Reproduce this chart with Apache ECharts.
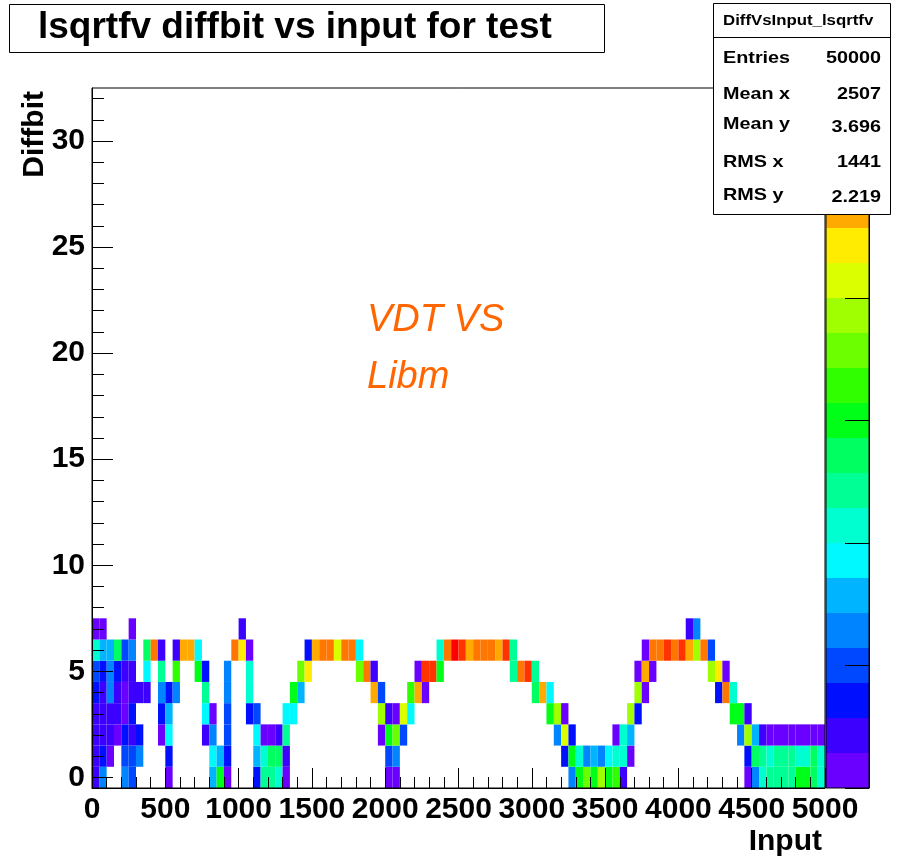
<!DOCTYPE html>
<html>
<head>
<meta charset="utf-8">
<script src="https://cdn.jsdelivr.net/npm/echarts@6/dist/echarts.min.js"></script>
<style>
  html, body { margin: 0; padding: 0; background: #fff; }
  #chart { width: 901px; height: 861px; }
</style>
</head>
<body>
<div id="chart"></div>
<script>
// Histogram binning
const BIN_WIDTH = 50;            // Input bin width (100 bins over 0..5000)
const X_MIN = 0, X_MAX = 5000;
const Y_MIN = -0.5, Y_MAX = 32.5; // Diffbit bins centred on integers

const xTickStep = 500;
const yMajorTicks = [0, 5, 10, 15, 20, 25, 30];
const yMinorTicks = Array.from({ length: 33 }, (_, i) => i);

// Colour palette (violet -> red), one colour per contour level
const paletteColors = [
  '#6a00ff', '#3c00ff', '#0010ff', '#0048ff', '#0084ff',
  '#00b4ff', '#00f8ff', '#00ffd0', '#00ff94', '#00ff60',
  '#00ff18', '#30ff00', '#6cff00', '#a0ff00', '#dcff00',
  '#ffec00', '#ffaa00', '#ff7700', '#ff3300', '#ff0000'
];
const paletteTicks = [0, 3.5, 7, 10.5, 14, 17.5];

// Cells per Diffbit value: [Input bin low edge, contour level]
const diffbit0 = [[0,1],[50,4],[200,4],[250,3],[500,0],[800,5],[850,10],[900,0],[1100,2],[1150,8],[1200,8],[1250,7],[1300,0],
  [2000,0],[2050,0],[3250,4],[3300,10],[3350,12],[3400,10],[3450,13],[3500,10],[3550,11],[3600,1],
  [4450,0],[4500,4],[4550,7],[4600,8],[4650,8],[4700,8],[4750,8],[4800,10],[4850,10],[4900,9],[4950,7]];
const diffbit1 = [[0,1],[50,2],[100,0],[200,3],[250,3],[300,4],[500,2],[800,6],[850,5],[900,2],[1100,5],[1150,7],[1200,9],[1250,9],[1300,1],
  [2000,3],[2050,4],[3200,2],[3250,10],[3300,7],[3350,4],[3400,5],[3450,4],[3500,6],[3550,7],[3600,7],[3650,0],
  [4450,2],[4500,9],[4550,8],[4600,7],[4650,8],[4700,8],[4750,8],[4800,7],[4850,7],[4900,9],[4950,7]];
const diffbit2 = [[0,1],[50,1],[100,1],[150,0],[200,2],[250,1],[300,2],[450,0],[500,6],[750,1],[800,4],[900,3],
  [1100,6],[1150,0],[1200,0],[1250,1],[1300,8],[1950,0],[2000,10],[2050,12],[2100,3],
  [3150,4],[3200,14],[3250,2],[3550,0],[3600,7],[3650,5],[4400,4],[4450,13],[4500,5],[4550,1],
  [4600,0],[4650,0],[4700,0],[4750,0],[4800,0],[4850,0],[4900,0],[4950,0]];
const diffbit3 = [[0,1],[50,1],[100,1],[150,1],[200,0],[250,2],[450,2],[500,5],[750,6],[800,0],[900,3],[1050,2],[1100,3],
  [1300,6],[1350,6],[1950,13],[2000,1],[2050,0],[2100,14],[2150,6],[3100,10],[3150,13],[3200,0],
  [3650,13],[3700,2],[4350,10],[4400,10],[4450,1]];
const diffbit4 = [[0,2],[50,1],[100,4],[150,1],[200,0],[250,1],[300,1],[350,1],[450,4],[500,2],[550,4],[750,8],[900,4],[1050,7],
  [1350,10],[1400,5],[1900,16],[1950,3],[2150,11],[2200,16],[2250,0],[3000,9],[3050,16],[3100,6],
  [3700,13],[3750,0],[4250,2],[4300,17],[4350,7]];
const diffbit5 = [[0,3],[50,2],[100,4],[150,2],[200,1],[250,1],[350,6],[450,8],[550,11],[700,10],[750,2],[900,4],[1050,7],
  [1400,12],[1450,15],[1800,12],[1850,17],[1900,1],[2200,0],[2250,18],[2300,18],[2350,10],
  [2850,8],[2900,17],[2950,18],[3000,8],[3700,0],[3750,16],[3800,0],[4200,13],[4250,15],[4300,0]];
const diffbit6 = [[0,7],[50,5],[100,5],[150,9],[200,3],[250,4],[350,9],[400,17],[450,1],[550,1],[600,16],[650,16],[700,6],
  [950,17],[1000,15],[1050,0],[1450,2],[1500,16],[1550,17],[1600,17],[1650,14],[1700,17],[1750,17],[1800,6],
  [2350,7],[2400,17],[2450,19],[2500,18],[2550,16],[2600,17],[2650,17],[2700,17],[2750,16],[2800,18],[2850,8],
  [3750,0],[3800,17],[3850,17],[3900,18],[3950,17],[4000,18],[4050,16],[4100,13],[4150,17],[4200,3]];
const diffbit7 = [[0,0],[50,0],[250,0],[1000,1],[4050,1],[4100,4]];

const statsTitle = 'DiffVsInput_lsqrtfv';
const statsLabels = ['Entries', 'Mean x', 'Mean y', 'RMS x', 'RMS y'];
const statsValues = ['50000', '2507', '3.696', '1441', '2.219'];

// ---- build the cell list from the rows
const diffbitRows = [diffbit0, diffbit1, diffbit2, diffbit3, diffbit4, diffbit5, diffbit6, diffbit7];
const cells = [];
diffbitRows.forEach((row, k) => row.forEach(([x, lvl]) => cells.push([x, k, lvl])));

const FONT = '"Liberation Sans", Arial, Helvetica, sans-serif';

function cellItem(params, api) {
  const x0 = api.value(0), y = api.value(1), lvl = api.value(2);
  const a = api.coord([x0, y - 0.5]);
  const b = api.coord([x0 + BIN_WIDTH, y + 0.5]);
  return {
    type: 'rect',
    shape: { x: a[0], y: b[1], width: b[0] - a[0], height: a[1] - b[1] },
    style: { fill: paletteColors[lvl] }
  };
}

function bandItem(params, api) {
  const i = api.value(0);
  const a = api.coord([0, i]);
  const b = api.coord([1, i + 1]);
  return {
    type: 'rect',
    shape: { x: a[0], y: b[1], width: b[0] - a[0], height: a[1] - b[1] },
    style: { fill: paletteColors[i] }
  };
}

// stats box rows
const statsY = [[58, 58], [94, 94], [124, 127], [162, 162], [195, 197]];
const statsElements = [];
statsLabels.forEach((lab, i) => {
  statsElements.push({
    type: 'text', x: 723, y: statsY[i][0], scaleX: 1.2, z: 101,
    style: { text: lab, fill: '#000', font: 'bold 16.5px ' + FONT, align: 'left', verticalAlign: 'middle' }
  });
  statsElements.push({
    type: 'text', x: 881, y: statsY[i][1], scaleX: 1.2, z: 101,
    style: { text: statsValues[i], fill: '#000', font: 'bold 16.5px ' + FONT, align: 'right', verticalAlign: 'middle' }
  });
});

const chart = echarts.init(document.getElementById('chart'), null, { renderer: 'canvas' });

chart.setOption({
  backgroundColor: '#fff',
  animation: false,
  grid: [
    { left: 92, top: 88, width: 733, height: 700, show: true, borderColor: '#000', borderWidth: 1, z: 3 },
    { left: 826, top: 88, width: 43, height: 700, show: true, borderColor: '#000', borderWidth: 1, z: 3 }
  ],
  xAxis: [
    {
      gridIndex: 0, type: 'value', min: X_MIN, max: X_MAX, interval: xTickStep, z: 5,
      axisLine: { show: true, onZero: false, lineStyle: { color: '#000', width: 1 } },
      axisTick: { show: true, inside: true, length: 20, lineStyle: { color: '#000', width: 1 } },
      minorTick: { show: true, splitNumber: 5, length: 11, lineStyle: { color: '#000', width: 1 } },
      splitLine: { show: false },
      axisLabel: {
        color: '#000', fontWeight: 'bold', fontSize: 30, fontFamily: FONT, margin: 7,
        showMinLabel: true, showMaxLabel: true, hideOverlap: false,
        formatter: (v) => String(v)
      }
    },
    { gridIndex: 1, type: 'value', min: 0, max: 1, show: false }
  ],
  yAxis: [
    {
      gridIndex: 0, type: 'value', min: Y_MIN, max: Y_MAX, position: 'left', z: 5,
      axisLine: { show: true, onZero: false, lineStyle: { color: '#000', width: 1 } },
      axisTick: { show: true, inside: true, length: 21, customValues: yMajorTicks, lineStyle: { color: '#000', width: 1 } },
      axisLabel: { customValues: yMajorTicks, color: '#000', fontWeight: 'bold', fontSize: 30, fontFamily: FONT, margin: 7 },
      splitLine: { show: false }
    },
    {
      gridIndex: 0, type: 'value', min: Y_MIN, max: Y_MAX, position: 'left', offset: 0, z: 5,
      axisLine: { show: false, onZero: false },
      axisTick: { show: true, inside: true, length: 12, customValues: yMinorTicks, lineStyle: { color: '#000', width: 1 } },
      axisLabel: { show: false },
      splitLine: { show: false }
    },
    {
      gridIndex: 1, type: 'value', min: 0, max: paletteColors.length, position: 'right', z: 5,
      axisLine: { show: true, onZero: false, lineStyle: { color: '#000', width: 1 } },
      axisTick: { show: true, inside: true, length: 24, customValues: paletteTicks, lineStyle: { color: '#000', width: 1 } },
      axisLabel: { show: false },
      splitLine: { show: false }
    }
  ],
  series: [
    {
      name: 'DiffVsInput_lsqrtfv', type: 'custom', xAxisIndex: 0, yAxisIndex: 0,
      data: cells, renderItem: cellItem, clip: true, z: 1
    },
    {
      name: 'palette', type: 'custom', xAxisIndex: 1, yAxisIndex: 2,
      data: paletteColors.map((c, i) => [i]), renderItem: bandItem, z: 1
    }
  ],
  graphic: [
    // title box
    { type: 'rect', z: 100, shape: { x: 9.5, y: 4.5, width: 595, height: 48 },
      style: { fill: '#fff', stroke: '#000', lineWidth: 1 } },
    { type: 'text', x: 38, y: 28, z: 101,
      style: { text: 'lsqrtfv diffbit vs input for test', fill: '#000', font: 'bold 37px ' + FONT, align: 'left', verticalAlign: 'middle' } },
    // stats box
    { type: 'rect', z: 100, shape: { x: 713.5, y: 3.5, width: 177, height: 211 },
      style: { fill: '#fff', stroke: '#000', lineWidth: 1 } },
    { type: 'line', z: 101, shape: { x1: 713.5, y1: 37.5, x2: 890.5, y2: 37.5 },
      style: { stroke: '#000', lineWidth: 1 } },
    { type: 'text', x: 723, y: 21, scaleX: 1.2, z: 101,
      style: { text: statsTitle, fill: '#000', font: 'bold 14px ' + FONT, align: 'left', verticalAlign: 'middle' } },
    ...statsElements,
    // axis titles
    { type: 'text', x: 822, y: 842, z: 101,
      style: { text: 'Input', fill: '#000', font: 'bold 30px ' + FONT, align: 'right', verticalAlign: 'middle' } },
    { type: 'text', x: 35, y: 91, rotation: Math.PI / 2, z: 101,
      style: { text: 'Diffbit', fill: '#000', font: 'bold 30px ' + FONT, align: 'right', verticalAlign: 'middle' } },
    // annotation
    { type: 'text', x: 367, y: 320, z: 101,
      style: { text: 'VDT VS', fill: '#ff6600', font: 'italic 38px ' + FONT, align: 'left', verticalAlign: 'middle' } },
    { type: 'text', x: 367, y: 377, z: 101,
      style: { text: 'Libm', fill: '#ff6600', font: 'italic 38px ' + FONT, align: 'left', verticalAlign: 'middle' } }
  ]
});
</script>
</body>
</html>
